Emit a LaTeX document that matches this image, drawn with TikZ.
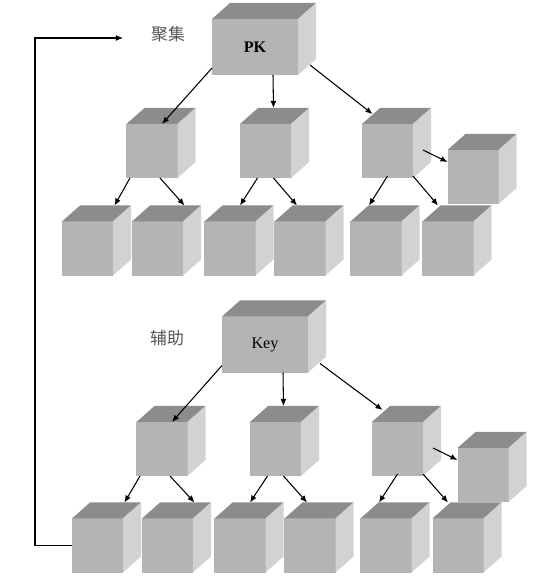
\documentclass[tikz,border=0pt]{standalone}
\usepackage{fontspec}
\setmainfont{Liberation Serif}
\newfontfamily\cjk{Noto Sans CJK SC}
\usetikzlibrary{arrows.meta}

\definecolor{cubefront}{RGB}{180,180,180}
\definecolor{cubetop}{RGB}{140,140,140}
\definecolor{cubeside}{RGB}{210,210,210}
\definecolor{labelgray}{RGB}{85,85,85}

% top and right faces of a box node
\newcommand{\boxfaces}[1]{%
  \fill [cubetop]  (#1.north west) -- ++(18,16) -- ([shift={(18,16)}]#1.north east) -- (#1.north east) -- cycle;
  \fill [cubeside] (#1.north east) -- ++(18,16) -- ([shift={(18,16)}]#1.south east) -- (#1.south east) -- cycle;
}

\begin{document}
\begin{tikzpicture}[x=0.025cm, y=0.025cm]
\tikzset{ >={Latex[length=5pt,width=4.2pt]}, inner sep=0pt, outer sep=0pt,
  cube/.style={fill=cubefront, minimum width=1.275cm, minimum height=1.35cm},
  bigcube/.style={cube, minimum width=2.15cm, minimum height=1.4cm, font=\fontsize{11.5}{13}\selectfont},
  link/.style={->, line width=0.75pt},
  tag/.style={text=labelgray, font=\fontsize{12}{14}\selectfont\cjk} }
\useasboundingbox (0,0) rectangle (553,578);

% clustered
\node [bigcube] (PK) at (255,531) {\textbf{PK}}; \boxfaces{PK}
\node [cube] (P1) at (152,427)   {}; \boxfaces{P1}
\node [cube] (P2) at (265.5,427) {}; \boxfaces{P2}
\node [cube] (P3) at (387.5,427) {}; \boxfaces{P3}
\node [cube] (PX) at (473,401)   {}; \boxfaces{PX}
\node [cube] (PL1) at (87.5,329.5)  {}; \boxfaces{PL1}
\node [cube] (PL2) at (157.5,329.5) {}; \boxfaces{PL2}
\node [cube] (PL3) at (230,329.5)   {}; \boxfaces{PL3}
\node [cube] (PL4) at (300,329.5)   {}; \boxfaces{PL4}
\node [cube] (PL5) at (376,329.5)   {}; \boxfaces{PL5}
\node [cube] (PL6) at (448,329.5)   {}; \boxfaces{PL6}

% secondary
\node [bigcube] (KEY) at (265,233.5) {Key}; \boxfaces{KEY}
\node [cube] (K1) at (162,129)   {}; \boxfaces{K1}
\node [cube] (K2) at (275.5,129) {}; \boxfaces{K2}
\node [cube] (K3) at (397.5,129) {}; \boxfaces{K3}
\node [cube] (KX) at (483,103)   {}; \boxfaces{KX}
\node [cube] (KL1) at (97.5,32.5)  {}; \boxfaces{KL1}
\node [cube] (KL2) at (167.5,32.5) {}; \boxfaces{KL2}
\node [cube] (KL3) at (240,32.5)   {}; \boxfaces{KL3}
\node [cube] (KL4) at (310,32.5)   {}; \boxfaces{KL4}
\node [cube] (KL5) at (386,32.5)   {}; \boxfaces{KL5}
\node [cube] (KL6) at (458,32.5)   {}; \boxfaces{KL6}

\node [tag] (JJ) at (168,544) {聚集};
\node [tag] (FZ) at (167,240) {辅助};

\draw [link] ([shift={(0,7)}]PK.south west)   -- ([shift={(10,0)}]P1.north);
\draw [link] ([shift={(18,0)}]PK.south)       -- ([shift={(8,16)}]P2.north);
\draw [link] ([shift={(12,10)}]PK.south east) -- ([shift={(-15,10)}]P3.north);
\draw [link] ([shift={(-22,0)}]P1.south) -- ([shift={(27,16)}]PL1.north);
\draw [link] ([shift={(8,0)}]P1.south)   -- ([shift={(27,16)}]PL2.north);
\draw [link] ([shift={(-8,0)}]P2.south)  -- ([shift={(10,16)}]PL3.north);
\draw [link] ([shift={(8,0)}]P2.south)   -- ([shift={(-3,16)}]PL4.north);
\draw [link] ([shift={(0,2)}]P3.south)       -- ([shift={(-7,16)}]PL5.north);
\draw [link] ([shift={(0,2)}]P3.south east)  -- ([shift={(-10,16)}]PL6.north);
\draw [link] ([shift={(10,1)}]P3.east)       -- ([shift={(0,15)}]PX.west);

\draw [link] ([shift={(0,7)}]KEY.south west)  -- ([shift={(10,0)}]K1.north);
\draw [link] ([shift={(18,0)}]KEY.south)      -- ([shift={(8,16)}]K2.north);
\draw [link] ([shift={(12,9)}]KEY.south east) -- ([shift={(-15,12)}]K3.north);
\draw [link] ([shift={(-22,0)}]K1.south) -- ([shift={(27,16)}]KL1.north);
\draw [link] ([shift={(8,0)}]K1.south)   -- ([shift={(27,16)}]KL2.north);
\draw [link] ([shift={(-8,0)}]K2.south)  -- ([shift={(10,16)}]KL3.north);
\draw [link] ([shift={(8,0)}]K2.south)   -- ([shift={(-3,16)}]KL4.north);
\draw [link] ([shift={(0,2)}]K3.south)       -- ([shift={(-7,16)}]KL5.north);
\draw [link] ([shift={(0,2)}]K3.south east)  -- ([shift={(-10,16)}]KL6.north);
\draw [link] ([shift={(10,1)}]K3.east)       -- ([shift={(0,15)}]KX.west);

% back to the top
\coordinate (FB) at (123,540);
\draw [link] (KL1.west) -- ++(-37,0) |- (FB);

\end{tikzpicture}
\end{document}
